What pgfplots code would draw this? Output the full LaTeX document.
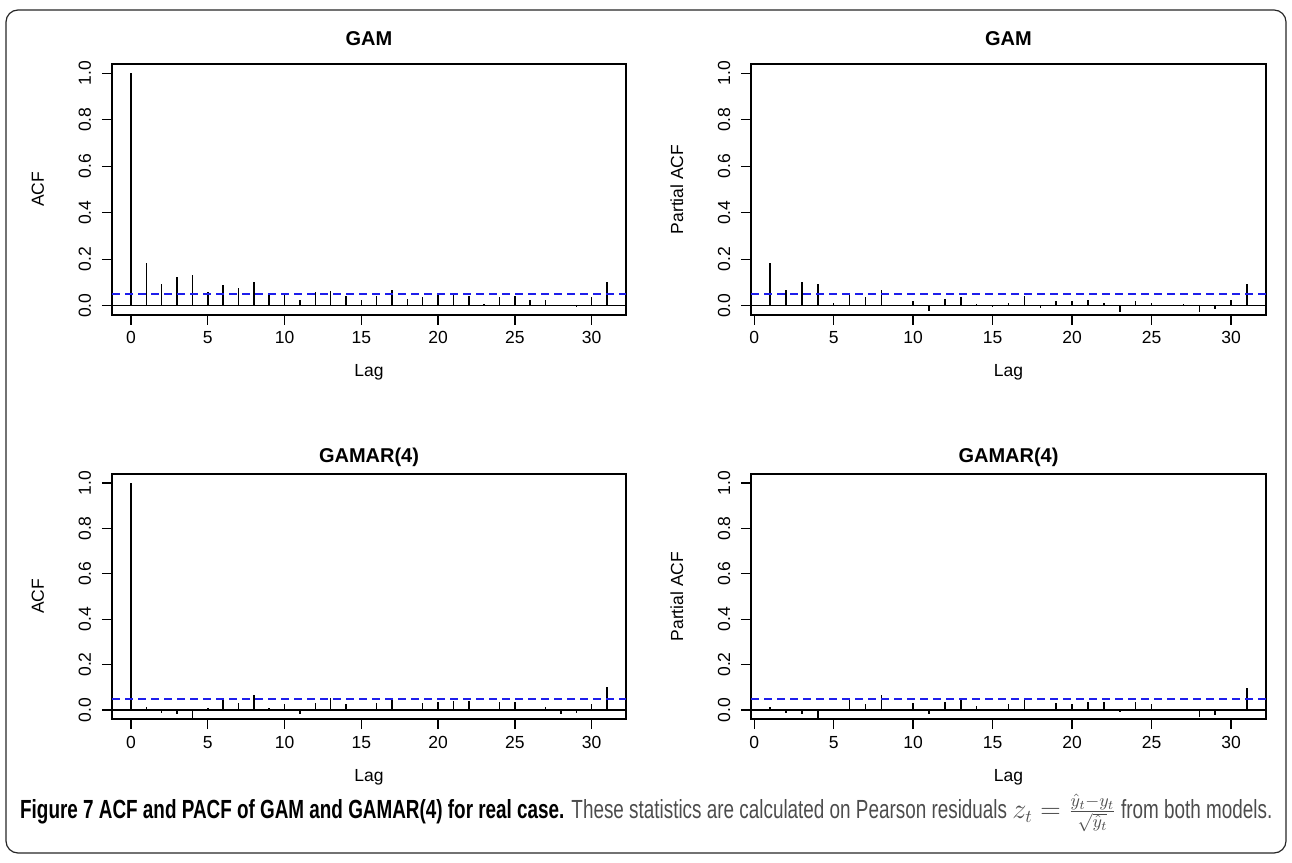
\documentclass[border=0pt]{standalone}
\usepackage{pgfplots}
\pgfplotsset{compat=1.18}
\usepackage{fontspec}
\setmainfont{Liberation Sans}
\newfontfamily\capfont[FakeStretch=0.72]{Liberation Sans}
\usepackage{graphicx}
\definecolor{rblue}{RGB}{30,30,235}

\pgfplotstableread{
lag val
0 1.0
1 0.183
2 0.094
3 0.125
4 0.13
5 0.06
6 0.09
7 0.078
8 0.10
9 0.05
10 0.05
11 0.026
12 0.06
13 0.065
14 0.042
15 0.025
16 0.042
17 0.067
18 0.03
19 0.038
20 0.05
21 0.054
22 0.042
23 0.009
24 0.038
25 0.042
26 0.025
27 0.026
28 0.003
29 -0.004
30 0.038
31 0.10
}\acfgam

\pgfplotstableread{
lag val
1 0.183
2 0.067
3 0.10
4 0.094
5 0.013
6 0.05
7 0.038
8 0.067
9 0.002
10 0.019
11 -0.022
12 0.03
13 0.038
14 0.007
15 -0.006
16 0.013
17 0.042
18 -0.009
19 0.019
20 0.019
21 0.025
22 0.013
23 -0.028
24 0.019
25 0.013
26 0.001
27 0.007
28 -0.028
29 -0.016
30 0.025
31 0.094
}\pacfgam

\pgfplotstableread{
lag val
0 1.0
1 0.012
2 -0.012
3 -0.018
4 -0.037
5 0.009
6 0.046
7 0.03
8 0.065
9 0.009
10 0.024
11 -0.018
12 0.03
13 0.053
14 0.024
15 0.001
16 0.03
17 0.053
18 0.006
19 0.03
20 0.035
21 0.041
22 0.041
23 0.001
24 0.035
25 0.035
26 0.006
27 0.012
28 -0.018
29 -0.012
30 0.024
31 0.10
}\acfgamar

\pgfplotstableread{
lag val
1 0.012
2 -0.012
3 -0.018
4 -0.037
5 0.006
6 0.046
7 0.024
8 0.065
9 0.006
10 0.03
11 -0.018
12 0.035
13 0.046
14 0.018
15 0.001
16 0.024
17 0.053
18 0.001
19 0.03
20 0.024
21 0.035
22 0.035
23 -0.01
24 0.035
25 0.024
26 0.001
27 0.001
28 -0.03
29 -0.024
30 0.006
31 0.096
}\pacfgamar

\pgfplotsset{
  racf/.style={
    scale only axis,
    anchor=south west,
    ymin=-0.04, ymax=1.04,
    axis line style={line width=1.3pt},
    every tick/.style={black, line width=1.3pt},
    tick align=outside,
    major tick length=10pt,
    xtick pos=bottom, ytick pos=left,
    xtick={0,5,...,30},
    ytick={0,0.2,0.4,0.6,0.8,1.0},
    yticklabels={0.0,0.2,0.4,0.6,0.8,1.0},
    /pgf/number format/assume math mode=true,
    tick label style={font=\fontsize{17.5}{21}\selectfont},
    label style={font=\fontsize{17.5}{21}\selectfont},
    xticklabel style={anchor=base, inner sep=0pt, yshift=-19pt},
    yticklabel style={xshift=-11pt, rotate=90, anchor=base, inner sep=0pt},
    xlabel={Lag},
    xlabel style={at={([yshift=-62pt]axis description cs:0.5,0)}, anchor=base, rotate=0, inner sep=0pt},
    ylabel style={at={([xshift=-68pt]axis description cs:0,0.5)}, anchor=base, rotate=0, inner sep=0pt},
    title style={anchor=base, inner sep=0pt, font=\fontsize{20}{24}\selectfont\bfseries},
  },
  racfx/.style={xmin=-1.24, xmax=32.24},
  rpacfx/.style={xmin=-0.2, xmax=32.2},
  toptitle/.style={title style={at={([yshift=12pt]axis description cs:0.5,1)}}},
  bottitle/.style={title style={at={([yshift=5pt]axis description cs:0.5,1)}}},
  dline/.style={draw=rblue, line width=1.7pt, dash pattern=on 8pt off 5pt},
}

\begin{document}
\begin{tikzpicture}[x=1pt,y=1pt]
\path[use as bounding box] (0,0) rectangle (1292,862);
\draw[line width=1.2pt, color=black!85, rounded corners=12pt] (6,9) rectangle (1286,852);

% Top-left
\begin{axis}[racf, racfx, toptitle, at={(112pt,547pt)}, width=514pt, height=251pt,
  title={GAM}, ylabel={ACF}]
\addplot[black, line width=1.3pt] coordinates {(-1.24,0) (32.24,0)};
\addplot[ycomb, black, line width=1.5pt] table[x=lag, y=val] {\acfgam};
\addplot[dline] coordinates {(-1.24,0.05) (32.24,0.05)};
\end{axis}

% Top-right
\begin{axis}[racf, rpacfx, toptitle, at={(751pt,547pt)}, width=515pt, height=251pt,
  title={GAM}, ylabel={Partial ACF}]
\addplot[black, line width=1.3pt] coordinates {(-0.2,0) (32.2,0)};
\addplot[ycomb, black, line width=1.5pt] table[x=lag, y=val] {\pacfgam};
\addplot[dline] coordinates {(-0.2,0.05) (32.2,0.05)};
\end{axis}

% Bottom-left
\begin{axis}[racf, racfx, bottitle, at={(112pt,143pt)}, width=514pt, height=245pt,
  title={GAMAR(4)}, ylabel={ACF}]
\addplot[black, line width=1.3pt] coordinates {(-1.24,0) (32.24,0)};
\addplot[ycomb, black, line width=1.5pt] table[x=lag, y=val] {\acfgamar};
\addplot[dline] coordinates {(-1.24,0.047) (32.24,0.047)};
\end{axis}

% Bottom-right
\begin{axis}[racf, rpacfx, bottitle, at={(751pt,143pt)}, width=515pt, height=245pt,
  title={GAMAR(4)}, ylabel={Partial ACF}]
\addplot[black, line width=1.3pt] coordinates {(-0.2,0) (32.2,0)};
\addplot[ycomb, black, line width=1.5pt] table[x=lag, y=val] {\pacfgamar};
\addplot[dline] coordinates {(-0.2,0.047) (32.2,0.047)};
\end{axis}

\node[anchor=base west, inner sep=0pt] at (20,44) {\resizebox{1252pt}{!}{\capfont\fontsize{16}{19}\selectfont
  {\bfseries Figure 7 ACF and PACF of GAM and GAMAR(4) for real case.}
  \color{black!70}These statistics are calculated on Pearson residuals $z_t=\frac{\hat{y}_t-y_t}{\sqrt{\hat{y}_t}}$ from both models.}};
\end{tikzpicture}
\end{document}
